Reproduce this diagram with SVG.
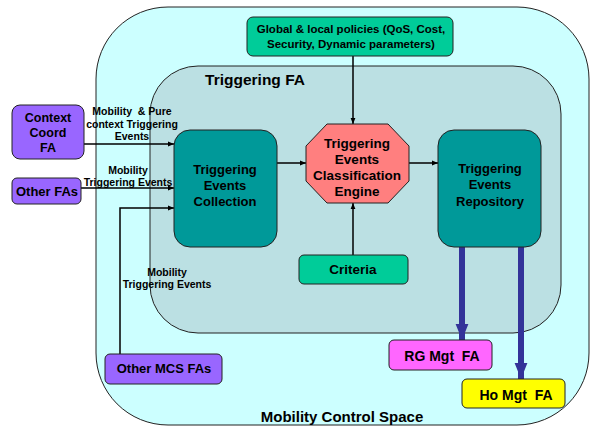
<svg xmlns="http://www.w3.org/2000/svg" width="591" height="428" viewBox="0 0 591 428">
<defs>
<style>
.t{font-family:"Liberation Sans",Arial,sans-serif;font-weight:bold;fill:#000;text-anchor:middle}
.n{stroke:#222;stroke-width:1}
.c{stroke:#000;stroke-width:1.5;fill:none}
.b{stroke:#333399;stroke-width:6;fill:none}
</style>
<marker id="ah" viewBox="0 0 10 10" refX="10" refY="5" markerWidth="6" markerHeight="6" orient="auto" markerUnits="userSpaceOnUse"><path d="M0,1 L10,5 L0,9 z" fill="#000"/></marker>
<marker id="bh" viewBox="0 0 10 10" refX="10" refY="5" markerWidth="16" markerHeight="16" orient="auto" markerUnits="userSpaceOnUse"><path d="M0,1 L10,5 L0,9 z" fill="#333399"/></marker>
</defs>
<rect width="591" height="428" fill="#fff"/>
<g id="mcs">
<rect x="96" y="7" width="493" height="418" rx="72" ry="72" fill="#CCFFFF" class="n"/>
<text class="t" x="342" y="422" font-size="15">Mobility Control Space</text>
</g>
<g id="triggering-fa">
<rect x="150" y="66" width="411" height="267" rx="48" ry="48" fill="#BBE0E3" class="n"/>
<text class="t" x="255" y="85" font-size="15.5">Triggering FA</text>
</g>
<g id="connectors">
<line class="c" x1="84" y1="144" x2="174" y2="144" marker-end="url(#ah)"/>
<line class="c" x1="81" y1="188" x2="174" y2="188" marker-end="url(#ah)"/>
<polyline class="c" points="120,354 120,208 174,208" marker-end="url(#ah)"/>
<line class="c" x1="277" y1="163" x2="306" y2="163" marker-end="url(#ah)"/>
<line class="c" x1="409" y1="163" x2="438" y2="163" marker-end="url(#ah)"/>
<line class="c" x1="353" y1="56" x2="353" y2="124" marker-end="url(#ah)"/>
<line class="c" x1="353" y1="255" x2="353" y2="203" marker-end="url(#ah)"/>
<line class="b" x1="462" y1="247" x2="462" y2="340" marker-end="url(#bh)"/>
<line class="b" x1="521" y1="247" x2="521" y2="379" marker-end="url(#bh)"/>
<text class="t" font-size="10.5" xml:space="preserve"><tspan x="132" y="115">Mobility  &amp; Pure</tspan><tspan x="132" y="128">context Triggering</tspan><tspan x="132" y="140">Events</tspan></text>
<text class="t" font-size="10.5"><tspan x="128" y="174">Mobility</tspan><tspan x="128" y="186">Triggering Events</tspan></text>
<text class="t" font-size="10.5"><tspan x="167" y="276">Mobility</tspan><tspan x="167" y="288">Triggering Events</tspan></text>
</g>
<g id="policies">
<rect x="247" y="17" width="206" height="39" rx="6" fill="#00CC99" class="n"/>
<text class="t" font-size="11.5"><tspan x="351" y="33">Global &amp; local policies (QoS, Cost,</tspan><tspan x="351" y="48">Security, Dynamic parameters)</tspan></text>
</g>
<g id="context-coord">
<rect x="12" y="105" width="72" height="54" rx="8" fill="#9966FF" class="n"/>
<text class="t" font-size="12.5"><tspan x="48" y="122">Context</tspan><tspan x="48" y="137">Coord</tspan><tspan x="48" y="152">FA</tspan></text>
</g>
<g id="other-fas">
<rect x="12" y="178" width="69" height="26" rx="5" fill="#9966FF" class="n"/>
<text class="t" x="47" y="196" font-size="13">Other FAs</text>
</g>
<g id="other-mcs">
<rect x="105" y="354" width="117" height="30" rx="5" fill="#9966FF" class="n"/>
<text class="t" x="164" y="373" font-size="13">Other MCS FAs</text>
</g>
<g id="collection">
<rect x="174" y="130" width="103" height="117" rx="16" fill="#009999" class="n"/>
<text class="t" font-size="13"><tspan x="225" y="174">Triggering</tspan><tspan x="225" y="190">Events</tspan><tspan x="225" y="206">Collection</tspan></text>
</g>
<g id="engine">
<polygon points="327,124 388,124 409,146 409,181 388,203 327,203 306,181 306,146" fill="#FF7F7F" class="n"/>
<text class="t" font-size="13.5"><tspan x="357" y="148">Triggering</tspan><tspan x="357" y="164">Events</tspan><tspan x="357" y="180">Classification</tspan><tspan x="357" y="196">Engine</tspan></text>
</g>
<g id="criteria">
<rect x="299" y="255" width="109" height="29" rx="5" fill="#00CC99" class="n"/>
<text class="t" x="353" y="274" font-size="13.5">Criteria</text>
</g>
<g id="repository">
<rect x="438" y="130" width="103" height="117" rx="16" fill="#009999" class="n"/>
<text class="t" font-size="13"><tspan x="490" y="173">Triggering</tspan><tspan x="490" y="189">Events</tspan><tspan x="490" y="206">Repository</tspan></text>
</g>
<g id="rg-mgt">
<rect x="389" y="340" width="103" height="30" rx="5" fill="#FF66FF" class="n"/>
<text class="t" x="442" y="361" font-size="14" xml:space="preserve">RG Mgt  FA</text>
</g>
<g id="ho-mgt">
<rect x="462" y="379" width="103" height="29" rx="5" fill="#FFFF00" class="n"/>
<text class="t" x="516" y="400" font-size="14" xml:space="preserve">Ho Mgt  FA</text>
</g>
</svg>
